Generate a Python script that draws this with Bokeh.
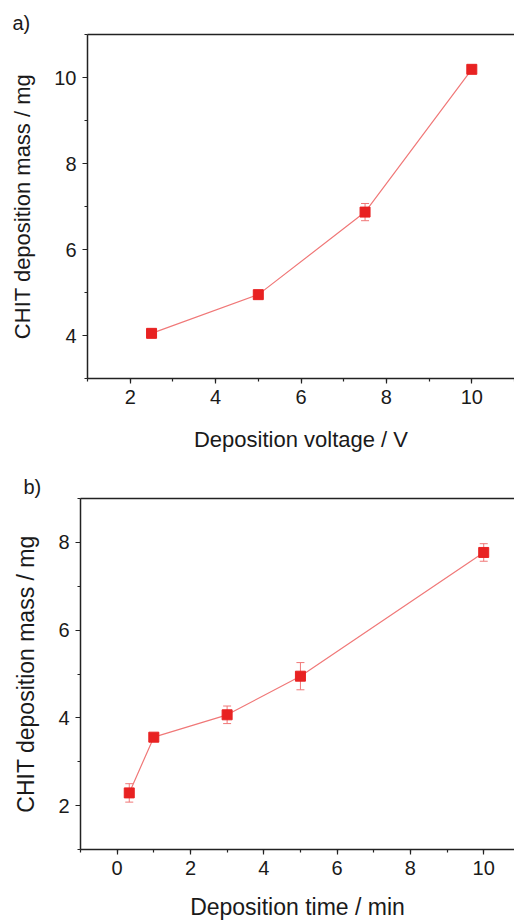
from bokeh.plotting import figure
from bokeh.models import (ColumnDataSource, Whisker, TeeHead, LinearAxis, FixedTicker,
                          SingleIntervalTicker, Title, Range1d)
from bokeh.layouts import column
from bokeh.embed import file_html
from bokeh.resources import INLINE

# ---- data ----
voltage = [2.5, 5.0, 7.5, 10.0]
mass_voltage = [4.05, 4.95, 6.87, 10.19]
err_voltage = [0.04, 0.04, 0.20, 0.04]

time_min = [0.33, 1.0, 3.0, 5.0, 10.0]
mass_time = [2.29, 3.56, 4.07, 4.95, 7.77]
err_time = [0.21, 0.05, 0.20, 0.31, 0.20]

FONT = "Liberation Sans"
MARK = "#e82222"
LINE = "#f07878"
AX = "#222222"


def make_panel(x, y, e, xlabel, xr, yr, width, height, bl, bt, bb, tag, tag_dx,
               lab_size, xstand):
    p = figure(width=width, height=height, output_backend="svg", toolbar_location=None,
               x_range=Range1d(*xr), y_range=Range1d(*yr),
               min_border_left=bl, min_border_right=0, min_border_top=bt, min_border_bottom=bb,
               x_axis_label=xlabel, y_axis_label="CHIT deposition mass / mg")
    p.frame_align = False
    p.outline_line_color = None
    p.grid.visible = False
    p.background_fill_color = "white"
    p.border_fill_color = "white"

    p.title = Title(text=tag, align="left", offset=tag_dx, text_font=FONT,
                    text_font_size="20px", text_font_style="normal",
                    text_color="#1a1a1a", standoff=2)

    p.xaxis.ticker = SingleIntervalTicker(interval=2, num_minor_ticks=2)
    p.yaxis.ticker = SingleIntervalTicker(interval=2, num_minor_ticks=2)
    for ax in (p.xaxis, p.yaxis):
        ax.axis_line_color = AX
        ax.axis_line_width = 1.5
        ax.major_tick_line_color = AX
        ax.minor_tick_line_color = AX
        ax.major_tick_line_width = 1.2
        ax.minor_tick_line_width = 1.2
        ax.major_tick_in = 0
        ax.major_tick_out = 5
        ax.minor_tick_in = 0
        ax.minor_tick_out = 3
        ax.major_label_text_font = FONT
        ax.major_label_text_font_size = "20px"
        ax.major_label_text_color = "#1a1a1a"
        ax.major_label_standoff = 6
        ax.axis_label_text_font = FONT
        ax.axis_label_text_font_size = lab_size
        ax.axis_label_text_font_style = "normal"
        ax.axis_label_text_color = "#1a1a1a"
    p.xaxis.axis_label_standoff = xstand
    p.yaxis.axis_label_standoff = 16

    top = LinearAxis(ticker=FixedTicker(ticks=[]), major_label_text_font_size="0px",
                     major_tick_out=0, major_tick_in=0, minor_tick_out=0, minor_tick_in=0,
                     major_label_standoff=0, axis_line_color=AX, axis_line_width=1.5)
    p.add_layout(top, "above")

    src = ColumnDataSource(dict(x=x, y=y, lo=[a - b for a, b in zip(y, e)],
                                hi=[a + b for a, b in zip(y, e)]))
    w = Whisker(base="x", lower="lo", upper="hi", source=src, level="underlay",
                line_color=LINE, line_width=1,
                upper_head=TeeHead(size=8, line_color=LINE, line_width=1),
                lower_head=TeeHead(size=8, line_color=LINE, line_width=1))
    p.add_layout(w)
    p.line("x", "y", source=src, line_color=LINE, line_width=1.2)
    p.scatter("x", "y", source=src, marker="square", size=10, fill_color=MARK,
              line_color=MARK)
    return p


pa = make_panel(voltage, mass_voltage, err_voltage, "Deposition voltage / V",
                (1, 11), (3, 11), 514, 460, 87, 34, 82, "a)", -75, "22px", 20)
pb = make_panel(time_min, mass_time, err_time, "Deposition time / min",
                (-1, 10.84), (1, 9), 514, 462, 80, 38, 71, "b)", -57, "23px", 16)

layout = column(pa, pb, spacing=0)
open("out.html", "w").write(file_html(layout, INLINE))
